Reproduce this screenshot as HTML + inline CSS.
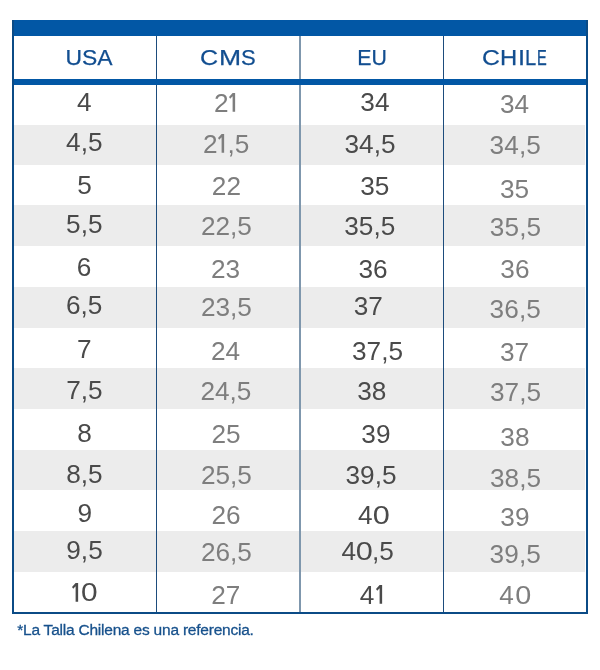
<!DOCTYPE html>
<html lang="es"><head><meta charset="utf-8"><title>Tabla de tallas</title>
<style>
html,body{margin:0;padding:0;background:#fff;}
body{width:600px;height:670px;position:relative;overflow:hidden;font-family:"Liberation Sans",sans-serif;}
.abs{position:absolute;}
#txt{position:absolute;left:0;top:0;width:600px;height:670px;will-change:transform;}
.t{position:absolute;width:200px;text-align:center;line-height:1;white-space:nowrap;}
.hl{position:absolute;line-height:1;font-size:22.8px;color:#124e90;transform-origin:0 50%;white-space:nowrap;}
.h{-webkit-text-stroke:0.25px currentColor;}
.g1{display:inline-block;vertical-align:baseline;overflow:visible;}
.w0{display:inline-block;transform-origin:50% 50%;}
</style></head><body>

<div class="abs" style="left:14px;top:124.50px;width:570.6px;height:40.70px;background:#ececec"></div>
<div class="abs" style="left:14px;top:205.20px;width:570.6px;height:41.30px;background:#ececec"></div>
<div class="abs" style="left:14px;top:286.80px;width:570.6px;height:41.00px;background:#ececec"></div>
<div class="abs" style="left:14px;top:368.20px;width:570.6px;height:41.30px;background:#ececec"></div>
<div class="abs" style="left:14px;top:450.00px;width:570.6px;height:40.20px;background:#ececec"></div>
<div class="abs" style="left:14px;top:531.20px;width:570.6px;height:41.20px;background:#ececec"></div>
<div class="abs" style="left:155.8px;top:35px;width:1.4px;height:578px;background:#1d4c7c"></div>
<div class="abs" style="left:299px;top:35px;width:2px;height:578px;background:#7f97ad"></div>
<div class="abs" style="left:442.8px;top:35px;width:1.4px;height:578px;background:#1d4c7c"></div>
<div class="abs" style="left:12px;top:19.5px;width:576px;height:16px;background:#0257a5"></div>
<div class="abs" style="left:12px;top:79px;width:576px;height:5.5px;background:#0257a5"></div>
<div class="abs" style="left:12px;top:20px;width:2px;height:594px;background:#0b4b86"></div>
<div class="abs" style="left:586px;top:20px;width:2px;height:594px;background:#0b4b86"></div>
<div class="abs" style="left:12px;top:612px;width:576px;height:2px;background:#0b4b86"></div>
<div id="txt">
<div class="t h" style="left:-11.30px;top:46.10px;font-size:22.8px;color:#124e90;transform:scaleX(1.005)">USA</div>
<div class="t h" style="left:271.80px;top:46.10px;font-size:22.8px;color:#124e90;transform:scaleX(0.935)">EU</div>
<div class="hl h" style="left:200.43px;top:46.10px;transform:scaleX(1.098)">C</div>
<div class="hl h" style="left:218.93px;top:46.10px;transform:scaleX(1.163)">M</div>
<div class="hl h" style="left:240.66px;top:46.10px;transform:scaleX(0.967)">S</div>
<div class="hl h" style="left:481.54px;top:46.10px;transform:scaleX(1.085)">C</div>
<div class="hl h" style="left:500.24px;top:46.10px;transform:scaleX(1.044)">H</div>
<div class="hl h" style="left:517.70px;top:46.10px;transform:scaleX(1.111)">I</div>
<div class="hl h" style="left:525.32px;top:46.10px;transform:scaleX(0.885)">L</div>
<div class="hl h" style="left:536.86px;top:46.10px;transform:scaleX(0.642)">E</div>
<div class="t" style="left:-15.70px;top:88.82px;font-size:26.2px;color:#4a4a4a;letter-spacing:0.0px">4</div>
<div class="t" style="left:-15.74px;top:129.12px;font-size:26.2px;color:#4a4a4a;letter-spacing:0.0px">4,5</div>
<div class="t" style="left:-15.40px;top:171.82px;font-size:26.2px;color:#4a4a4a;letter-spacing:0.0px">5</div>
<div class="t" style="left:-15.72px;top:210.82px;font-size:26.2px;color:#4a4a4a;letter-spacing:0.0px">5,5</div>
<div class="t" style="left:-15.90px;top:253.62px;font-size:26.2px;color:#4a4a4a;letter-spacing:0.0px">6</div>
<div class="t" style="left:-15.90px;top:292.02px;font-size:26.2px;color:#4a4a4a;letter-spacing:0.0px">6,5</div>
<div class="t" style="left:-15.60px;top:335.82px;font-size:26.2px;color:#4a4a4a;letter-spacing:0.0px">7</div>
<div class="t" style="left:-15.60px;top:376.82px;font-size:26.2px;color:#4a4a4a;letter-spacing:0.0px">7,5</div>
<div class="t" style="left:-15.40px;top:420.32px;font-size:26.2px;color:#4a4a4a;letter-spacing:0.0px">8</div>
<div class="t" style="left:-15.60px;top:460.82px;font-size:26.2px;color:#4a4a4a;letter-spacing:0.0px">8,5</div>
<div class="t" style="left:-15.25px;top:499.72px;font-size:26.2px;color:#4a4a4a;letter-spacing:0.0px">9</div>
<div class="t" style="left:-15.50px;top:536.82px;font-size:26.2px;color:#4a4a4a;letter-spacing:0.0px">9,5</div>
<div class="t" style="left:-15.28px;top:579.42px;font-size:26.2px;color:#4a4a4a;letter-spacing:0.0px"><svg class="g1" width="6.2" height="18.7" viewBox="0 0 6 18"><path d="M0 3.9 L3.5 0 H5.95 V18 H3.5 V3.1 L1.2 5.5 Z" fill="#4a4a4a"/></svg><span style="margin-left:3.7px"></span><span class="w0" style="transform:scaleX(1.14);margin:0 0.9px">0</span></div>
<div class="t" style="left:124.65px;top:89.57px;font-size:26.2px;color:#7e7e7e;letter-spacing:0.0px">2<span style="margin-left:0.5px"></span><svg class="g1" width="6.2" height="18.7" viewBox="0 0 6 18"><path d="M0 3.9 L3.5 0 H5.95 V18 H3.5 V3.1 L1.2 5.5 Z" fill="#7e7e7e"/></svg></div>
<div class="t" style="left:126.25px;top:130.57px;font-size:26.2px;color:#7e7e7e;letter-spacing:0.0px">2<span style="margin-left:0.6px"></span><svg class="g1" width="6.2" height="18.7" viewBox="0 0 6 18"><path d="M0 3.9 L3.5 0 H5.95 V18 H3.5 V3.1 L1.2 5.5 Z" fill="#7e7e7e"/></svg><span style="margin-left:3.2px"></span>,5</div>
<div class="t" style="left:126.40px;top:173.07px;font-size:26.2px;color:#7e7e7e;letter-spacing:0.0px">22</div>
<div class="t" style="left:126.40px;top:213.07px;font-size:26.2px;color:#7e7e7e;letter-spacing:0.0px">22,5</div>
<div class="t" style="left:125.60px;top:255.82px;font-size:26.2px;color:#7e7e7e;letter-spacing:0.0px">23</div>
<div class="t" style="left:126.40px;top:293.82px;font-size:26.2px;color:#7e7e7e;letter-spacing:0.0px">23,5</div>
<div class="t" style="left:125.60px;top:337.57px;font-size:26.2px;color:#7e7e7e;letter-spacing:0.0px">24</div>
<div class="t" style="left:125.94px;top:378.32px;font-size:26.2px;color:#7e7e7e;letter-spacing:0.0px">24,5</div>
<div class="t" style="left:126.00px;top:421.32px;font-size:26.2px;color:#7e7e7e;letter-spacing:0.0px">25</div>
<div class="t" style="left:126.40px;top:462.22px;font-size:26.2px;color:#7e7e7e;letter-spacing:0.0px">25,5</div>
<div class="t" style="left:126.00px;top:502.42px;font-size:26.2px;color:#7e7e7e;letter-spacing:0.0px">26</div>
<div class="t" style="left:126.40px;top:538.57px;font-size:26.2px;color:#7e7e7e;letter-spacing:0.0px">26,5</div>
<div class="t" style="left:125.75px;top:581.57px;font-size:26.2px;color:#7e7e7e;letter-spacing:0.0px">27</div>
<div class="t" style="left:274.92px;top:89.32px;font-size:26.2px;color:#4a4a4a;letter-spacing:0.0px">34</div>
<div class="t" style="left:270.00px;top:130.57px;font-size:26.2px;color:#4a4a4a;letter-spacing:0.0px">34,5</div>
<div class="t" style="left:274.75px;top:173.07px;font-size:26.2px;color:#4a4a4a;letter-spacing:0.0px">35</div>
<div class="t" style="left:269.75px;top:213.07px;font-size:26.2px;color:#4a4a4a;letter-spacing:0.0px">35,5</div>
<div class="t" style="left:273.10px;top:255.82px;font-size:26.2px;color:#4a4a4a;letter-spacing:0.0px">36</div>
<div class="t" style="left:268.25px;top:293.32px;font-size:26.2px;color:#4a4a4a;letter-spacing:0.0px">37</div>
<div class="t" style="left:277.50px;top:337.57px;font-size:26.2px;color:#4a4a4a;letter-spacing:0.0px">37,5</div>
<div class="t" style="left:271.75px;top:377.57px;font-size:26.2px;color:#4a4a4a;letter-spacing:0.0px">38</div>
<div class="t" style="left:275.90px;top:421.32px;font-size:26.2px;color:#4a4a4a;letter-spacing:0.0px">39</div>
<div class="t" style="left:271.00px;top:462.22px;font-size:26.2px;color:#4a4a4a;letter-spacing:0.0px">39,5</div>
<div class="t" style="left:273.75px;top:502.42px;font-size:26.2px;color:#4a4a4a;letter-spacing:0.0px">4<span class="w0" style="transform:scaleX(1.17);margin:0 1.2px">0</span></div>
<div class="t" style="left:267.60px;top:538.32px;font-size:26.2px;color:#4a4a4a;letter-spacing:0.0px">4<span class="w0" style="transform:scaleX(1.17);margin:0 1.2px">0</span><span style="margin-left:-1.1px"></span>,5</div>
<div class="t" style="left:271.00px;top:581.72px;font-size:26.2px;color:#4a4a4a;letter-spacing:0.0px">4<span style="margin-left:1.6px"></span><svg class="g1" width="6.2" height="18.7" viewBox="0 0 6 18"><path d="M0 3.9 L3.5 0 H5.95 V18 H3.5 V3.1 L1.2 5.5 Z" fill="#4a4a4a"/></svg></div>
<div class="t" style="left:414.60px;top:91.32px;font-size:26.2px;color:#7e7e7e;letter-spacing:0.1px">34</div>
<div class="t" style="left:415.25px;top:132.32px;font-size:26.2px;color:#7e7e7e;letter-spacing:0.1px">34,5</div>
<div class="t" style="left:414.60px;top:175.57px;font-size:26.2px;color:#7e7e7e;letter-spacing:0.1px">35</div>
<div class="t" style="left:415.50px;top:214.32px;font-size:26.2px;color:#7e7e7e;letter-spacing:0.1px">35,5</div>
<div class="t" style="left:415.00px;top:256.32px;font-size:26.2px;color:#7e7e7e;letter-spacing:0.1px">36</div>
<div class="t" style="left:415.25px;top:295.82px;font-size:26.2px;color:#7e7e7e;letter-spacing:0.1px">36,5</div>
<div class="t" style="left:414.60px;top:338.82px;font-size:26.2px;color:#7e7e7e;letter-spacing:0.1px">37</div>
<div class="t" style="left:415.60px;top:379.32px;font-size:26.2px;color:#7e7e7e;letter-spacing:0.1px">37,5</div>
<div class="t" style="left:415.00px;top:423.82px;font-size:26.2px;color:#7e7e7e;letter-spacing:0.1px">38</div>
<div class="t" style="left:415.60px;top:464.72px;font-size:26.2px;color:#7e7e7e;letter-spacing:0.1px">38,5</div>
<div class="t" style="left:415.00px;top:503.92px;font-size:26.2px;color:#7e7e7e;letter-spacing:0.1px">39</div>
<div class="t" style="left:415.25px;top:540.82px;font-size:26.2px;color:#7e7e7e;letter-spacing:0.1px">39,5</div>
<div class="t" style="left:415.40px;top:582.22px;font-size:26.2px;color:#7e7e7e;letter-spacing:0.1px">4<span style="margin-left:1.4px"></span><span class="w0" style="transform:scaleX(1.1);margin:0 0.7px">0</span></div>
<div class="abs" style="left:17.2px;top:621px;font-size:15.5px;letter-spacing:-0.22px;line-height:18px;color:#17518c;white-space:nowrap;-webkit-text-stroke:0.3px #17518c">*La Talla Chilena es una referencia.</div>
</div>
</body></html>
